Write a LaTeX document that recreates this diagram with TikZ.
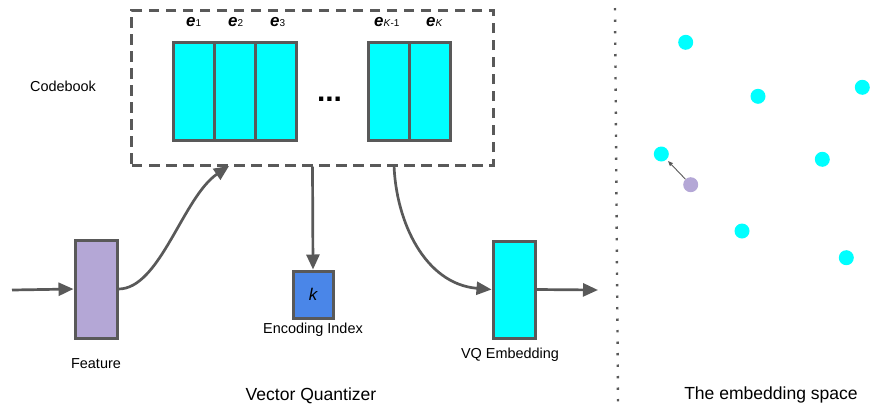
\documentclass[tikz,border=0pt]{standalone}
\usepackage{fontspec}
\setmainfont{Liberation Sans}
\usetikzlibrary{arrows.meta}
\definecolor{lg}{HTML}{595959}
\definecolor{cy}{HTML}{00FFFF}
\definecolor{lav}{HTML}{B4A7D6}
\definecolor{bl}{HTML}{4A86E8}
\newcommand{\elab}[1]{{\fontsize{17}{17}\selectfont\bfseries\itshape e}{\fontsize{10}{10}\selectfont #1}}
\begin{document}
\begin{tikzpicture}[x=1bp,y=-1bp,
  box/.style={draw=lg, line width=3bp, inner sep=0pt, minimum width=42bp, minimum height=98bp},
  cell/.style={box, fill=cy, minimum width=41bp},
  conn/.style={draw=lg, line width=2.7bp, -{Triangle[length=15bp,width=13bp]}},
  small/.style={font=\fontsize{14.5}{17}\selectfont, anchor=base, inner sep=0pt},
  big/.style={font=\fontsize{17.6}{20}\selectfont, anchor=base, inner sep=0pt},
  elabel/.style={anchor=base west, inner sep=0pt},
  pt/.style={circle, fill=cy, minimum size=15bp, inner sep=0pt},
]
\useasboundingbox (0,0) rectangle (870,408);

% codebook frame
\node[draw=lg, line width=3bp, dash pattern=on 10.5bp off 6.5bp, minimum width=361bp, minimum height=155bp, inner sep=0pt] (cb) at (312.5,87.5) {};

% cells
\node[cell] (c1) at (193.5,91) {};
\node[cell] (c2) at (234.5,91) {};
\node[cell] (c3) at (275.5,91) {};
\node[cell] (c4) at (388.5,91) {};
\node[cell] (c5) at (429.5,91) {};

% cell labels
\node[elabel] (l1) at (186,26) {\elab{1}};
\node[elabel] (l2) at (228,26) {\elab{2}};
\node[elabel] (l3) at (270,26) {\elab{3}};
\node[elabel] (l4) at (374,26) {\elab{\textit{K}-1}};
\node[elabel] (l5) at (426,26) {\elab{\textit{K}}};

\node[anchor=base, inner sep=0pt, font=\fontsize{30}{30}\selectfont\bfseries] (dots) at (329.5,101) {...};

\node[small] (cbl) at (63,91) {Codebook};

% feature
\node[box, fill=lav] (feat) at (96,289) {};
\node[small] (featl) at (96,368) {Feature};
\coordinate (in) at (12,290);

% encoding index
\node[draw=lg, line width=3bp, fill=bl, minimum width=40bp, minimum height=47bp, inner sep=0pt, font=\fontsize{17}{17}\selectfont\itshape] (k) at (313,294.5) {k};
\node[small] (kl) at (313,333.5) {Encoding Index};

% VQ embedding
\node[box, fill=cy, minimum height=97bp] (vq) at (514,289.5) {};
\node[small] (vql) at (510,358.5) {VQ Embedding};
\coordinate (out) at (598,290);

\coordinate (cin) at (229,166);
\coordinate (cout) at (394,165);

\draw[conn] (in) -- (feat.west);
\draw[conn] (feat.east) .. controls (160,289) and (183,197) .. (cin);
\draw[conn] (cb.south) -- (k.north);
\draw[conn] (cout) .. controls (396,222) and (425,284) .. (vq.west);
\draw[conn] (vq.east) -- (out);

\node[big] (vqt) at (311,400.6) {Vector Quantizer};

% separator
\coordinate (s1) at (615,8);
\coordinate (s2) at (618,402);
\draw[lg, line width=2.4bp, dash pattern=on 2.4bp off 9.1bp] (s1) -- (s2);

% embedding space
\node[pt] (p1) at (685.7,42.3) {};
\node[pt] (p2) at (758,96.3) {};
\node[pt] (p3) at (862.3,87.3) {};
\node[pt] (p4) at (661.3,154) {};
\node[pt] (p5) at (822.3,159.3) {};
\node[pt] (p6) at (742,231) {};
\node[pt] (p7) at (846.3,257.7) {};
\node[pt, fill=lav] (lp) at (690.7,184.7) {};
\draw[lg, line width=0.9bp, -{Triangle[length=5bp,width=4bp]}, shorten >=2bp] (lp) -- (p4);

\node[big] (est) at (771,399.6) {The embedding space};
\end{tikzpicture}
\end{document}
